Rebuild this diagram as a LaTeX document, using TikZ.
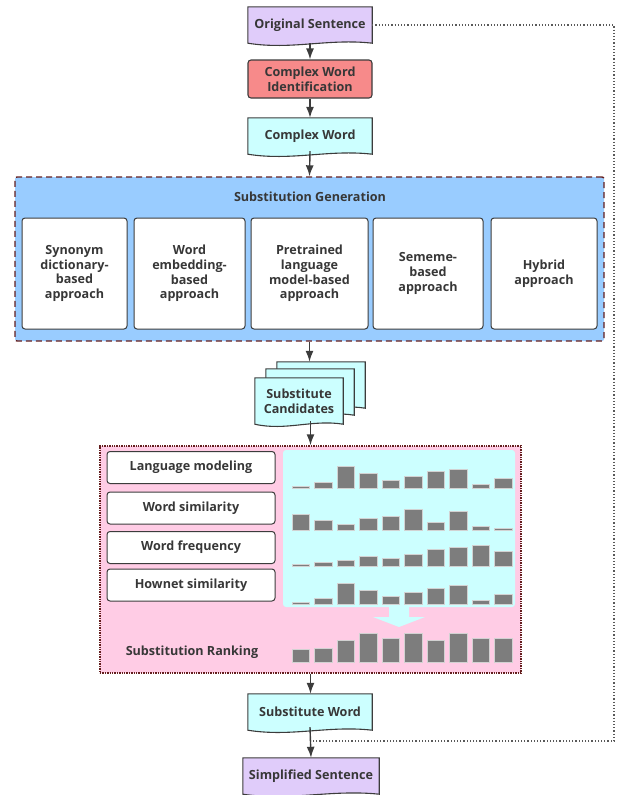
\documentclass[tikz,border=0pt]{standalone}
\usepackage{fontspec}
\setmainfont{Open Sans}
\usetikzlibrary{arrows.meta,calc}
\definecolor{linegray}{RGB}{60,60,60}
\definecolor{textgray}{RGB}{55,55,55}
\definecolor{lavender}{RGB}{224,204,250}
\definecolor{paleCyan}{RGB}{204,255,255}
\definecolor{cwired}{RGB}{247,138,138}
\definecolor{sgblue}{RGB}{153,204,255}
\definecolor{srpink}{RGB}{255,204,229}
\definecolor{frameRed}{RGB}{100,30,30}
\definecolor{bargray}{RGB}{125,125,125}
\pgfdeclarelayer{background}
\pgfsetlayers{background,main}
\tikzset{
  docnode/.style={minimum width=124pt,minimum height=36pt,inner sep=0pt,align=center},
  procbox/.style={draw=linegray,line width=1.1pt,rounded corners=3pt,fill=cwired,
    minimum width=124pt,minimum height=38pt,inner sep=0pt,align=center},
  methodbox/.style={draw=linegray,fill=white,line width=1pt,rounded corners=3pt,
    minimum height=111pt,inner sep=0pt,align=center},
  featbox/.style={draw=linegray,fill=white,line width=1pt,rounded corners=3pt,
    minimum width=168pt,minimum height=32pt,inner sep=0pt},
  flow/.style={-{Latex[length=11pt,width=8pt]},line width=1.4pt,draw=linegray},
  feedback/.style={dotted,line width=1.2pt,draw=gray!70!black},
  bar/.style={fill=bargray,draw=gray!35,line width=0.5pt}
}
\newcommand{\docpath}[2]{%
  \draw[fill=#2,draw=linegray,line width=1.1pt] (#1.north west) -- (#1.north east) -- (#1.south east)
    .. controls ($(#1.south east)!0.35!(#1.south west)+(0,-5)$) and ($(#1.south east)!0.65!(#1.south west)+(0,7)$) .. (#1.south west) -- cycle;}

\begin{document}
\begin{tikzpicture}[x=1pt,y=-1pt,
  every node/.style={font=\bfseries\fontsize{12.6}{14.6}\selectfont,text=textgray}]
\useasboundingbox (0,0) rectangle (618,795);

% Main flow, top part
\node[docnode] (os) at (310,25) {Original Sentence};
\node[procbox] (cwi) at (310,79) {Complex Word\\Identification};
\node[docnode] (cw) at (310,136) {Complex Word};

% Substitution generation
\node[draw=frameRed,dash pattern=on 6pt off 4pt,line width=1.4pt,fill=sgblue,rounded corners=2pt,
  minimum width=589pt,minimum height=164pt] (sg) at (309.5,259) {};
\node (sgtitle) at (310,197) {Substitution Generation};
\foreach \name/\x/\w/\txt in {
  syn/74.5/105/{Synonym\\dictionary-\\based\\approach},
  emb/189.5/111/{Word\\embedding-\\based\\approach},
  plm/309.5/117/{Pretrained\\language\\model-based\\approach},
  sem/428/110/{Sememe-\\based\\approach},
  hyb/544/106/{Hybrid\\approach}}
{
  \node[methodbox,minimum width=\w pt] (\name) at (\x,273.5) {\txt};
}

% Candidates, stacked
\node[docnode,minimum width=88pt,minimum height=46pt] (cand3) at (321,385) {};
\node[docnode,minimum width=88pt,minimum height=46pt] (cand2) at (310,392) {};
\node[docnode,minimum width=88pt,minimum height=46pt] (cand1) at (299,401) {Substitute\\Candidates};

% Substitution ranking
\node[draw=frameRed,densely dotted,line width=1.4pt,fill=srpink,
  minimum width=421pt,minimum height=227pt] (sr) at (310.5,559.5) {};
\node[fill=paleCyan,rounded corners=3pt,minimum width=232pt,minimum height=157pt] (panel) at (399,528.5) {};
\fill[paleCyan] (389,606) -- (409,606) -- (409,617) -- (425,617) -- (399,627) -- (373,617) -- (389,617) -- cycle;
\node[featbox] (lm) at (191,467.5) {Language modeling};
\node[featbox] (ws) at (191,508) {Word similarity};
\node[featbox] (wf) at (191,547.5) {Word frequency};
\node[featbox] (hs) at (191,585) {Hownet similarity};
\node (srtitle) at (192,652) {Substitution Ranking};

% Score bars per feature, and the combined ranking
\foreach \base/\hs in {
  488.7/{2.7,6.3,22,15.3,8.3,12.7,17,19.3,4.3,10.7},
  530/{16,10,6,11.7,14,20.3,7.7,18.3,4,1.7},
  566.7/{2,4.3,6.3,10.7,8.7,12.7,17.3,19.3,21.3,15},
  604.3/{2,5.7,20.7,14.3,8.3,12,16.3,18.7,4,10},
  662.7/{13,14.7,22,29.3,24,29.3,22.7,29.3,24,24}}
{
  \foreach \h [count=\i from 0] in \hs
    \draw[bar] (292+\i*22.5,\base) rectangle ++(17.5,-\h);
}

% Main flow, bottom part
\node[docnode] (subw) at (310,712) {Substitute Word};
\node[docnode,minimum width=136pt] (simp) at (311,776) {Simplified Sentence};

% Document outlines behind the texts
\begin{pgfonlayer}{background}
\docpath{os}{lavender}
\docpath{cw}{paleCyan}
\docpath{cand3}{paleCyan}
\docpath{cand2}{paleCyan}
\docpath{cand1}{paleCyan}
\docpath{subw}{paleCyan}
\docpath{simp}{lavender}
\end{pgfonlayer}

% Arrows
\draw[flow] (os.south) -- (cwi.north);
\draw[flow] (cwi.south) -- (cw.north);
\draw[flow] ([yshift=3pt]cw.south) -- (sg.north);
\draw[flow] (sg.south) -- (sg.south |- cand3.north);
\draw[flow] ([yshift=3pt]cand1.south -| sr.north) -- (sr.north);
\draw[flow] (sr.south) -- (sr.south |- subw.north);
\draw[flow] ([yshift=3pt]subw.south) -- (simp.north);

% Feedback from the original sentence
\coordinate (fbtop) at (614,25);
\coordinate (fbbot) at (614,741);
\coordinate (fbjoin) at (311,741);
\draw[feedback] (os.east) -- (fbtop) -- (fbbot) -- (fbjoin);

\end{tikzpicture}
\end{document}
